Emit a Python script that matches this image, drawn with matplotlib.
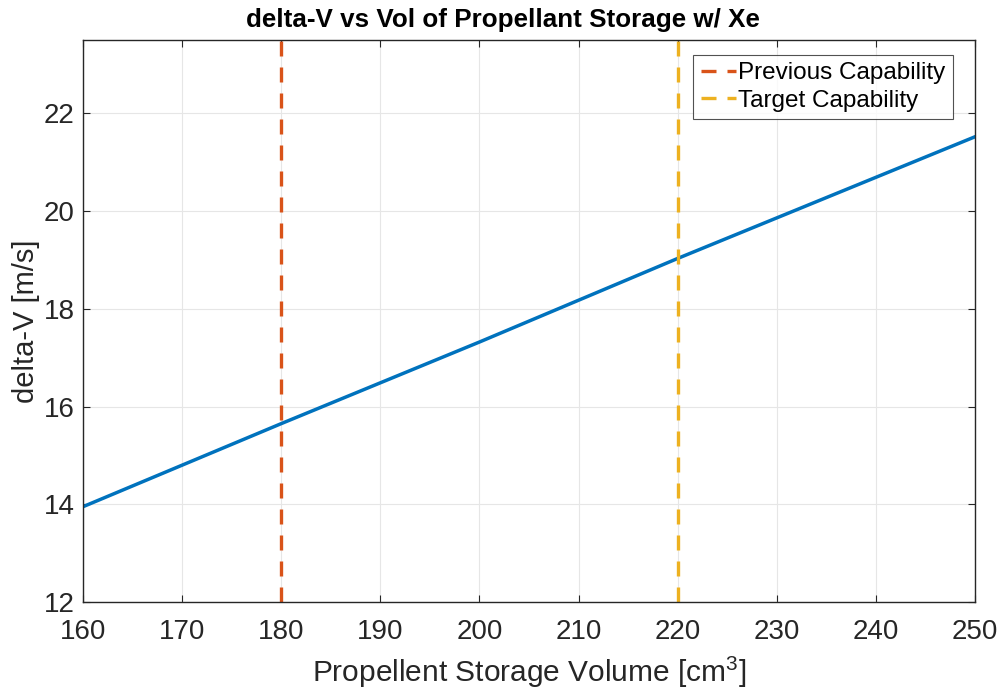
import matplotlib
matplotlib.use("Agg")
import matplotlib.pyplot as plt

# values
volume = [160, 180, 200, 220, 250]             # cm^3
delta_v = [13.95, 15.65, 17.32, 19.03, 21.52]  # m/s
prev_cap = 180
target_cap = 220

BLUE = "#0072BD"
ORANGE = "#D95319"
YELLOW = "#EDB120"
DASH = (0, (4.5, 3.3))

plt.rcParams["font.family"] = ["Liberation Sans", "DejaVu Sans"]
plt.rcParams["mathtext.fontset"] = "custom"
plt.rcParams["mathtext.rm"] = "Liberation Sans"

fig = plt.figure(figsize=(10.05, 6.94), dpi=100)
ax = fig.add_axes([83 / 1005, 1 - 602 / 694, (975 - 83) / 1005, (602 - 40) / 694])

ax.plot(volume, delta_v, color=BLUE, lw=2.5)
ax.axvline(prev_cap, color=ORANGE, ls=DASH, lw=2.4, label="Previous Capability")
ax.axvline(target_cap, color=YELLOW, ls=DASH, lw=2.4, label="Target Capability")

ax.set_xlim(160, 250)
ax.set_ylim(12, 23.5)
ax.set_xticks(range(160, 251, 10))
ax.set_yticks(range(12, 23, 2))
ax.grid(True, color="#e6e6e6", lw=0.8)
ax.set_axisbelow(True)
ax.tick_params(direction="in", length=5, colors="#262626", labelsize=20,
               top=True, right=True)
ax.tick_params(axis="x", pad=12)
ax.tick_params(axis="y", pad=6)
for s in ax.spines.values():
    s.set_color("#262626")
    s.set_linewidth(1.0)

ax.set_xlabel(r"Propellent Storage Volume [cm$^3$]", fontsize=21.5,
              color="#262626", labelpad=7)
ax.set_ylabel("delta-V [m/s]", fontsize=21, color="#262626", labelpad=3)
ax.set_title("delta-V vs Vol of Propellant Storage w/ Xe", fontsize=18.7,
             fontweight="bold", pad=9, x=(503 - 83) / 892)

leg = ax.legend(loc="upper right", fontsize=17.5, frameon=True, fancybox=False,
                handlelength=1.45, handletextpad=0.1, borderpad=0.3,
                labelspacing=0.22, borderaxespad=0.0,
                bbox_to_anchor=(1 - 22 / 892, 1 - 15 / 562))
leg.get_frame().set_edgecolor("#262626")
leg.get_frame().set_linewidth(0.8)

fig.savefig("out.png", dpi=100)
